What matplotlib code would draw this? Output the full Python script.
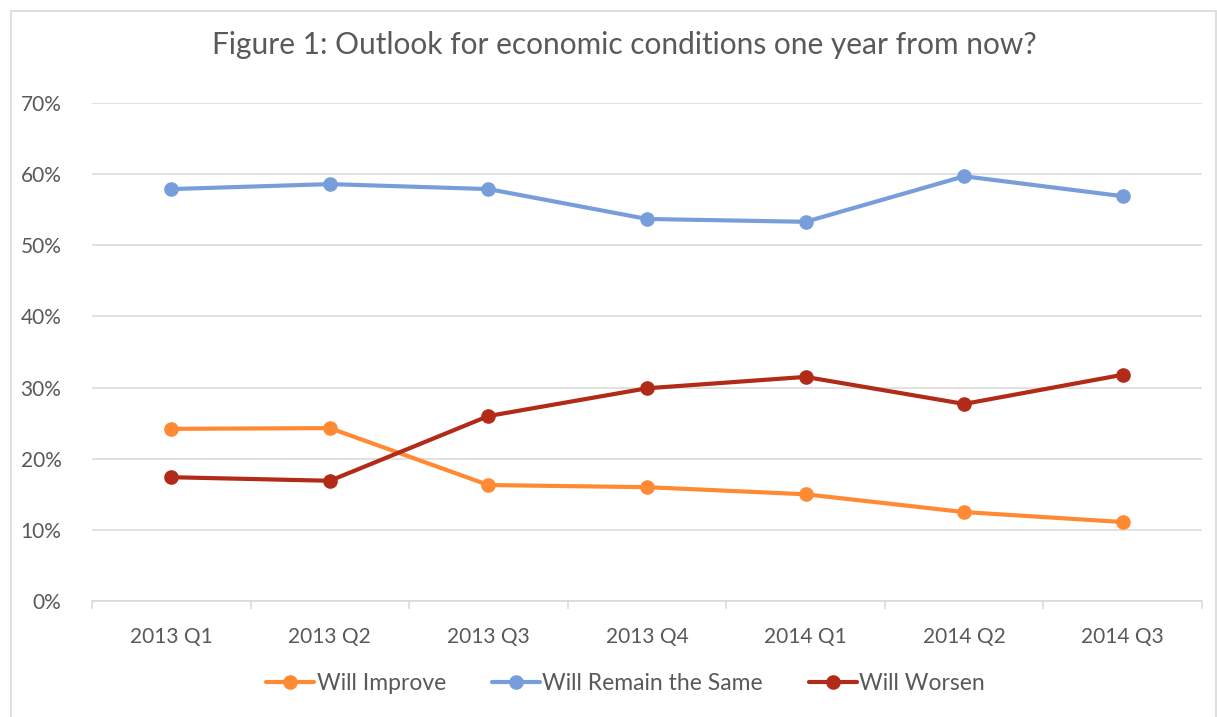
import matplotlib.pyplot as plt
from matplotlib.patches import Rectangle
from matplotlib.ticker import FixedLocator, PercentFormatter

quarters = ['2013 Q1', '2013 Q2', '2013 Q3', '2013 Q4', '2014 Q1', '2014 Q2', '2014 Q3']
improve = [24.2, 24.3, 16.3, 16.0, 15.0, 12.5, 11.1]
remain = [57.9, 58.6, 57.9, 53.7, 53.3, 59.7, 56.9]
worsen = [17.4, 16.9, 26.0, 29.9, 31.5, 27.7, 31.8]

plt.rcParams['font.family'] = ['Lato', 'DejaVu Sans']
txt = '#595959'
grid = '#D9D9D9'

fig = plt.figure(figsize=(12.17, 7.17), dpi=100)
ax = fig.add_axes([92/1217, 1 - 601/717, (1202 - 92)/1217, (601 - 103)/717])

# chart frame
fig.patches.append(Rectangle((11/1217, -0.01), (1216 - 11)/1217, 1 - 11/717 + 0.01,
                             transform=fig.transFigure, fill=False,
                             edgecolor=grid, linewidth=1.2))

x = range(len(quarters))
series = [(improve, 'Will Improve', '#FF8A33'),
          (remain, 'Will Remain the Same', '#779EDB'),
          (worsen, 'Will Worsen', '#B22A18')]
for vals, name, col in series:
    ax.plot(x, vals, color=col, linewidth=3, marker='o', markersize=9.5,
            label=name, solid_capstyle='round', zorder=3)

ax.set_xlim(-0.5, len(quarters) - 0.5)
ax.set_ylim(0, 70)
ax.set_yticks(range(0, 71, 10))
ax.yaxis.set_major_formatter(PercentFormatter(decimals=0))
ax.grid(axis='y', color=grid, linewidth=1.1)
ax.set_axisbelow(True)

ax.set_xticks(list(x))
ax.set_xticklabels(quarters)
ax.xaxis.set_minor_locator(FixedLocator([i - 0.5 for i in range(len(quarters) + 1)]))
ax.tick_params(axis='x', which='major', length=0, pad=19, labelsize=15, labelcolor=txt)
ax.tick_params(axis='x', which='minor', length=6, color=grid, width=1.1)
ax.tick_params(axis='y', length=0, pad=22, labelsize=15, labelcolor=txt)

for s in ['top', 'right', 'left']:
    ax.spines[s].set_visible(False)
ax.spines['bottom'].set_color(grid)
ax.spines['bottom'].set_linewidth(1.1)

fig.text(0.513, 1 - 45/717, 'Figure 1: Outlook for economic conditions one year from now?',
         ha='center', va='center', fontsize=21.5, color=txt)

fig.legend(loc='center', bbox_to_anchor=(0.514, 1 - 684/717), ncol=3, frameon=False,
           fontsize=16.5, labelcolor=txt, handlelength=2.1, handletextpad=0.1,
           columnspacing=2.0)

fig.savefig('out.png', dpi=100)
